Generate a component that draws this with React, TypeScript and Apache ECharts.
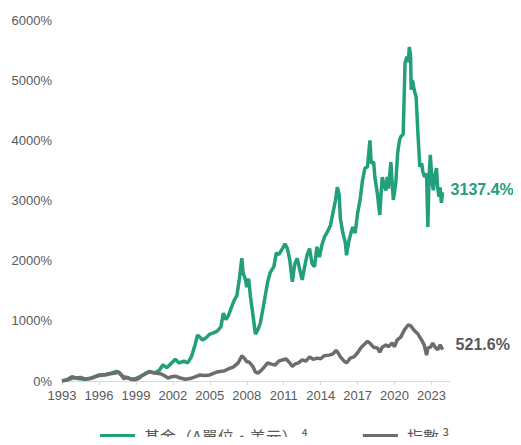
import React, { useEffect, useRef } from "react";
import * as echarts from "echarts";

const START_YEAR = 1993;
const xTickYears = [1993, 1996, 1999, 2002, 2005, 2008, 2011, 2014, 2017, 2020, 2023];
const yTicks = [0, 1000, 2000, 3000, 4000, 5000, 6000];

const fundName = "基金（A單位・美元）";
const indexName = "指數";
const fundNote = "⁴";
const indexNote = "³";
const fundEndLabel = "3137.4%";
const indexEndLabel = "521.6%";

const fundDates = [
  1993.0, 1993.5, 1994.0, 1994.3, 1994.8, 1995.2, 1995.6, 1996.0, 1996.5, 1997.0,
  1997.4, 1997.6, 1997.9, 1998.2, 1998.6, 1999.0, 1999.4, 1999.8, 2000.1, 2000.5,
  2000.9, 2001.2, 2001.5, 2001.9, 2002.2, 2002.5, 2002.9, 2003.2, 2003.5, 2003.8,
  2004.0, 2004.2, 2004.4, 2004.7, 2005.0, 2005.3, 2005.6, 2005.9, 2006.1, 2006.3,
  2006.5, 2006.8, 2007.0, 2007.2, 2007.4, 2007.6, 2007.7, 2007.9, 2008.0, 2008.15,
  2008.3, 2008.5, 2008.7, 2008.9, 2009.1, 2009.4, 2009.7, 2009.9, 2010.2, 2010.4,
  2010.6, 2010.9, 2011.1, 2011.3, 2011.5, 2011.7, 2011.9, 2012.1, 2012.3, 2012.5,
  2012.7, 2012.9, 2013.1, 2013.3, 2013.5, 2013.7, 2013.9, 2014.1, 2014.3, 2014.5,
  2014.8, 2015.0, 2015.2, 2015.35, 2015.5, 2015.6, 2015.8, 2016.0, 2016.1, 2016.3,
  2016.6, 2016.8, 2017.0, 2017.2, 2017.4, 2017.6, 2017.8, 2018.0, 2018.1, 2018.3,
  2018.4, 2018.6, 2018.8, 2018.9, 2019.0, 2019.2, 2019.3, 2019.4, 2019.5, 2019.7,
  2019.8, 2019.9, 2020.1, 2020.25, 2020.4, 2020.5, 2020.7, 2020.85, 2021.0, 2021.1,
  2021.2, 2021.3, 2021.35, 2021.45, 2021.55, 2021.65, 2021.75, 2021.9, 2022.05, 2022.2,
  2022.3, 2022.45, 2022.6, 2022.7, 2022.8, 2022.9, 2023.05, 2023.15, 2023.25, 2023.4,
  2023.5, 2023.6, 2023.7, 2023.8, 2023.9,
];
const fundValues = [
  0, 20, 60, 40, 30, 40, 70, 100, 110, 130,
  160, 140, 80, 60, 30, 40, 80, 130, 160, 130,
  180, 270, 220, 300, 360, 300, 330, 300, 400, 600,
  760, 730, 680, 720, 780, 800, 830, 900, 1130, 1020,
  1080, 1250, 1350, 1420, 1700, 2040, 1800, 1680, 1560, 1700,
  1400, 1100, 780, 850, 960, 1300, 1650, 1800, 1900, 2130,
  2100, 2200, 2280, 2200, 2000, 1650, 1950, 2040, 1850, 1680,
  1900, 2100, 2200, 1950, 1900, 2230, 2060, 2260, 2390, 2460,
  2590, 2800, 3000, 3220, 3100, 2700, 2460, 2300, 2090, 2340,
  2560, 2460, 2790, 3010, 3340, 3540, 3560, 4000, 3620, 3640,
  3390, 3120, 2760, 3100, 3390, 3220, 3170, 3390, 3200, 3640,
  3300, 3010, 3290, 3790, 4000, 4060, 4100, 5290, 5390, 5300,
  5550, 5400, 4840, 5000, 4890, 4790, 4720, 4100, 3560, 3620,
  3470, 3390, 3450, 2560, 3390, 3760, 3290, 3170, 3390, 3540,
  3220, 3060, 3220, 2960, 3137.4,
];

const indexDates = [
  1993.0, 1993.4, 1993.8, 1994.1, 1994.5, 1994.9, 1995.3, 1995.7, 1996.0, 1996.5,
  1996.9, 1997.3, 1997.6, 1997.8, 1998.0, 1998.3, 1998.6, 1998.9, 1999.2, 1999.5,
  1999.8, 2000.1, 2000.4, 2000.7, 2001.0, 2001.3, 2001.6, 2001.9, 2002.2, 2002.6,
  2003.0, 2003.4, 2003.8, 2004.2, 2004.6, 2005.0, 2005.6, 2006.2, 2006.6, 2006.9,
  2007.3, 2007.6, 2007.8, 2008.0, 2008.2, 2008.5, 2008.7, 2008.9, 2009.2, 2009.5,
  2009.7, 2010.0, 2010.3, 2010.6, 2010.9, 2011.2, 2011.5, 2011.7, 2011.9, 2012.2,
  2012.5, 2012.8, 2013.1, 2013.4, 2013.7, 2014.0, 2014.3, 2014.7, 2015.0, 2015.25,
  2015.4, 2015.6, 2015.9, 2016.1, 2016.4, 2016.7, 2017.0, 2017.3, 2017.6, 2017.8,
  2018.0, 2018.3, 2018.6, 2018.8, 2019.0, 2019.3, 2019.5, 2019.8, 2020.0, 2020.2,
  2020.5, 2020.8, 2021.1, 2021.3, 2021.6, 2021.9, 2022.2, 2022.4, 2022.6, 2022.7,
  2022.9, 2023.1, 2023.3, 2023.5, 2023.7, 2023.9,
];
const indexValues = [
  0, 20, 70, 50, 60, 30, 40, 70, 90, 100,
  120, 130, 150, 110, 40, 60, 30, 20, 40, 90,
  120, 150, 140, 130, 120, 90, 50, 70, 80, 50,
  30, 40, 70, 100, 90, 100, 150, 170, 210, 230,
  300, 420, 380, 320, 315, 240, 150, 130, 180, 250,
  300, 280, 265, 330, 350, 365, 300, 240, 280, 300,
  350, 330, 400, 360, 380, 370, 420, 430, 450, 510,
  470, 400, 330, 300, 380, 400, 470, 560, 620, 660,
  630, 560, 550, 480, 560, 600, 570, 630, 570, 680,
  730, 850, 930, 920, 840, 780, 680, 600, 430, 550,
  560, 630, 560, 520, 600, 521.6,
];

const GREEN = "#21a07b";
const GRAY = "#6d6d70";
const TEXT = "#595959";

export default function App() {
  const ref = useRef<HTMLDivElement>(null);
  useEffect(() => {
    if (!ref.current) return;
    const chart = echarts.init(ref.current, undefined, { renderer: "svg" });
    const toPairs = (dates: number[], vals: number[]) =>
      dates.map((d, i) => [d - START_YEAR, vals[i]]);
    const xTickOffsets = xTickYears.map((y) => y - START_YEAR);
    chart.setOption({
      animation: false,
      grid: { left: 62, right: 71, top: 20, bottom: 64, containLabel: false },
      xAxis: {
        type: "value",
        min: 0,
        max: 31.5,
        interval: 3,
        axisLine: { show: true, lineStyle: { color: "#d9d9d9", width: 1 } },
        axisTick: { show: true, length: 4, lineStyle: { color: "#d9d9d9" } },
        splitLine: { show: false },
        axisLabel: {
          color: TEXT,
          fontSize: 13,
          fontFamily: "Liberation Sans, Arial, sans-serif",
          margin: 8,
          showMaxLabel: false,
          formatter: (v: number) =>
            xTickOffsets.includes(Math.round(v)) && Math.abs(v - Math.round(v)) < 1e-6
              ? String(START_YEAR + Math.round(v))
              : "",
        },
      },
      yAxis: {
        type: "value",
        min: yTicks[0],
        max: yTicks[yTicks.length - 1],
        interval: 1000,
        axisLine: { show: false },
        axisTick: { show: false },
        splitLine: { show: false },
        axisLabel: {
          color: TEXT,
          fontSize: 13,
          fontFamily: "Liberation Sans, Arial, sans-serif",
          margin: 10,
          formatter: (v: number) => `${v}%`,
        },
      },
      legend: {
        top: 428,
        left: 100,
        padding: 0,
        itemWidth: 35,
        itemHeight: 4,
        itemGap: 55,
        icon: "rect",
        data: [
          { name: fundName, itemStyle: { color: GREEN } },
          { name: indexName, itemStyle: { color: GRAY } },
        ],
        formatter: (name: string) =>
          name === fundName ? `${name} ${fundNote}` : `${name} ${indexNote}`,
        textStyle: {
          color: TEXT,
          fontSize: 16,
          fontFamily: "Noto Sans CJK TC, DejaVu Sans, sans-serif",
          padding: [0, 0, 0, 4],
        },
      },
      series: [
        {
          name: fundName,
          type: "line",
          data: toPairs(fundDates, fundValues),
          showSymbol: false,
          symbol: "none",
          lineStyle: { color: GREEN, width: 3.5 },
          itemStyle: { color: GREEN },
          endLabel: {
            show: true,
            formatter: () => fundEndLabel,
            color: GREEN,
            fontWeight: "bold",
            fontSize: 16,
            fontFamily: "Liberation Sans, Arial, sans-serif",
            distance: 8,
            offset: [0, -3],
          },
        },
        {
          name: indexName,
          type: "line",
          data: toPairs(indexDates, indexValues),
          showSymbol: false,
          symbol: "none",
          lineStyle: { color: GRAY, width: 3.5 },
          itemStyle: { color: GRAY },
          endLabel: {
            show: true,
            formatter: () => indexEndLabel,
            color: "#58585a",
            fontWeight: "bold",
            fontSize: 16,
            fontFamily: "Liberation Sans, Arial, sans-serif",
            distance: 13,
            offset: [0, -5],
          },
        },
      ],
    });
    return () => chart.dispose();
  }, []);
  return <div ref={ref} style={{ width: 521, height: 445, margin: -8 }} />;
}
